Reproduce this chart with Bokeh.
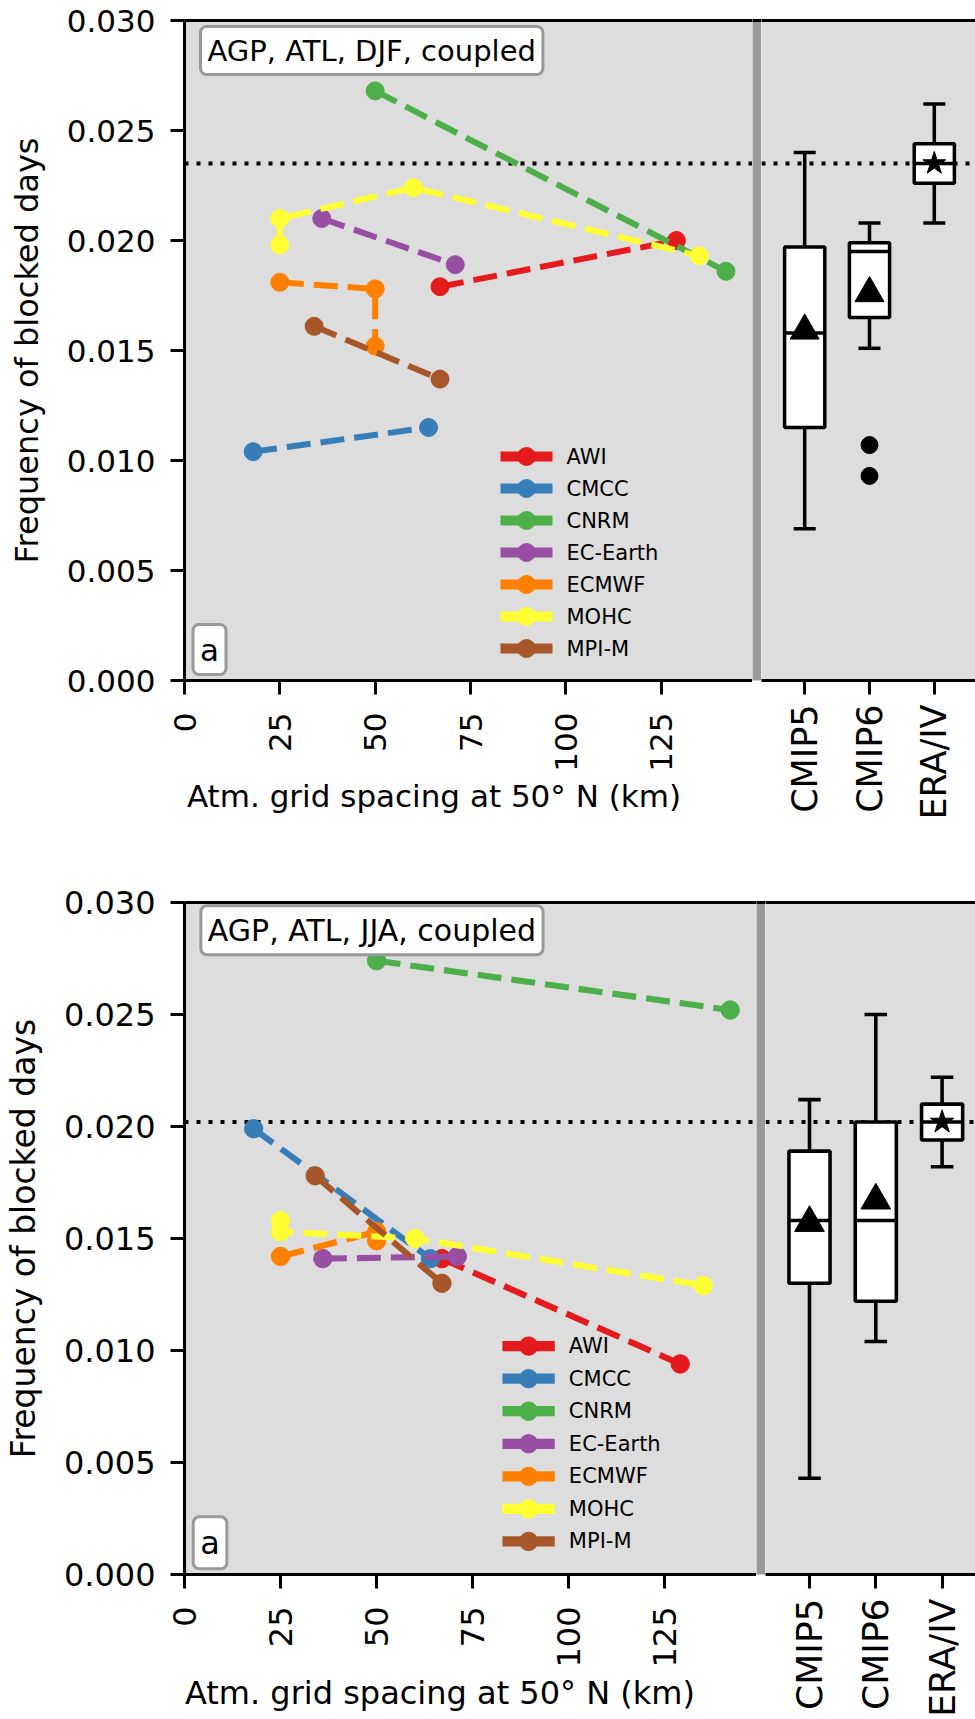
import numpy as np
from bokeh.core.properties import value
from bokeh.embed import file_html
from bokeh.layouts import column, row
from bokeh.models import (ColumnDataSource, FixedTicker, Label, LinearAxis,
                          PrintfTickFormatter, Range1d, Span)
from bokeh.plotting import figure
from bokeh.resources import INLINE

# ---------------------------------------------------------------- data
models = ["AWI", "CMCC", "CNRM", "EC-Earth", "ECMWF", "MOHC", "MPI-M"]
model_colors = ["#e41a1c", "#377eb8", "#4daf4a", "#984ea3", "#ff7f00", "#ffff33", "#a65628"]

# atmospheric grid spacing at 50N (km), one entry per model configuration
awi_km = [67, 129]
cmcc_km = [18, 64]
cnrm_km = [50, 142]
ecearth_km = [36, 71]
ecmwf_km = [25, 50, 50]
mohc_km = [25, 25, 60, 135]
mpim_km = [34, 67]

# frequency of blocked days, winter (DJF)
djf_awi = [0.0179, 0.0200]
djf_cmcc = [0.0104, 0.0115]
djf_cnrm = [0.0268, 0.0186]
djf_ecearth = [0.0210, 0.0189]
djf_ecmwf = [0.0181, 0.0178, 0.0152]
djf_mohc = [0.0198, 0.0210, 0.0224, 0.0193]
djf_mpim = [0.0161, 0.0137]

# frequency of blocked days, summer (JJA)
jja_awi = [0.0141, 0.0094]
jja_cmcc = [0.0199, 0.0141]
jja_cnrm = [0.0274, 0.0252]
jja_ecearth = [0.0141, 0.0142]
jja_ecmwf = [0.0142, 0.0153, 0.0149]
jja_mohc = [0.0158, 0.0153, 0.0150, 0.0129]
jja_mpim = [0.0178, 0.0130]

# CMIP ensembles and reanalysis: box-plot statistics
ens_labels = ["CMIP5", "CMIP6", "ERA/IV"]
djf_low = [0.0069, 0.0151, 0.0208]
djf_q1 = [0.0115, 0.0165, 0.0226]
djf_med = [0.0158, 0.0195, 0.0235]
djf_q3 = [0.0197, 0.0199, 0.0244]
djf_high = [0.0240, 0.0208, 0.0262]
djf_mean = [0.0159, 0.0176, 0.0235]
djf_flier_group = ["CMIP6", "CMIP6"]
djf_flier_value = [0.0107, 0.0093]
djf_obs = 0.0235

jja_low = [0.0043, 0.0104, 0.0182]
jja_q1 = [0.0130, 0.0122, 0.0194]
jja_med = [0.0158, 0.0158, 0.0202]
jja_q3 = [0.0189, 0.0202, 0.0210]
jja_high = [0.0212, 0.0250, 0.0222]
jja_mean = [0.0157, 0.0167, 0.0202]
jja_flier_group = []
jja_flier_value = []
jja_obs = 0.0202

km_ticks = [0, 25, 50, 75, 100, 125]
freq_ticks = [0.000, 0.005, 0.010, 0.015, 0.020, 0.025, 0.030]

model_km = [awi_km, cmcc_km, cnrm_km, ecearth_km, ecmwf_km, mohc_km, mpim_km]
djf_values = [djf_awi, djf_cmcc, djf_cnrm, djf_ecearth, djf_ecmwf, djf_mohc, djf_mpim]
jja_values = [jja_awi, jja_cmcc, jja_cnrm, jja_ecearth, jja_ecmwf, jja_mohc, jja_mpim]
djf_stats = dict(low=djf_low, q1=djf_q1, med=djf_med, q3=djf_q3, high=djf_high, mean=djf_mean,
                 flier_group=djf_flier_group, flier_value=djf_flier_value)
jja_stats = dict(low=jja_low, q1=jja_q1, med=jja_med, q3=jja_q3, high=jja_high, mean=jja_mean,
                 flier_group=jja_flier_group, flier_value=jja_flier_value)

# ---------------------------------------------------------------- style
FONT = "DejaVu Sans"
PANEL_BG = "#dddddd"
SEPARATOR = "#999999"
WIDTH = 975
SEP_W = 9
KM_AT_SEPARATOR = 150
YMAX = 0.030
BOX_HW = 0.31
CAP_HW = 0.17
mean_markers = ["triangle", "triangle", "star"]
mean_sizes = [29, 29, 24]
X_TITLE = "Atm. grid spacing at 50° N (km)"

# legend layout, pixels from the frame's top-left corner
LEG_X0, LEG_X1, LEG_TX = 316, 368, 382
LEG_ROW0, LEG_STEP = 436, 32

# x_pad: trailing no-break spaces that push the centred x title over to the left spine
panel_specs = [
    dict(title="AGP, ATL, DJF, coupled", values=djf_values, stats=djf_stats, obs=djf_obs,
         height=823, top=20, bottom=680, spine_x=184, sep_x=756.0, cat_x=804.2, cat_dx=64.8,
         k=1.0, x_pad=7),
    dict(title="AGP, ATL, JJA, coupled", values=jja_values, stats=jja_stats, obs=jja_obs,
         height=896, top=79, bottom=754, spine_x=175, sep_x=760.5, cat_x=809.0, cat_dx=66.3,
         k=1.022, x_pad=6),
]


def style_axis(ax, k, tick_px, label_px):
    ax.axis_line_width = 3 * k
    ax.axis_line_color = "black"
    ax.major_tick_line_width = 3 * k
    ax.major_tick_line_color = "black"
    ax.major_tick_out = int(round(14 * k))
    ax.major_tick_in = 0
    ax.minor_tick_line_color = None
    ax.major_label_text_font = FONT
    ax.major_label_text_font_size = f"{tick_px}px"
    ax.major_label_text_color = "black"
    ax.axis_label_text_font = FONT
    ax.axis_label_text_font_size = f"{label_px}px"
    ax.axis_label_text_font_style = "normal"
    ax.axis_label_text_color = "black"


def add_top_spine(fig, k):
    spine = LinearAxis(ticker=FixedTicker(ticks=[]), axis_line_width=3 * k, axis_line_color="black",
                       major_tick_line_color=None, minor_tick_line_color=None,
                       major_label_text_font_size="0px")
    fig.add_layout(spine, "above")


def build_panel(spec):
    k = spec["k"]
    H = spec["height"]
    ft, fb = spec["top"], spec["bottom"]
    frame_h = fb - ft
    left_w = int(round(spec["sep_x"] - SEP_W / 2))
    right_x0 = left_w + SEP_W
    right_w = WIDTH - right_x0
    px_km = (spec["sep_x"] - spec["spine_x"]) / KM_AT_SEPARATOR
    px_val = frame_h / YMAX
    tick_px = round(31 * k)
    title_px = round(29 * k)
    legend_px = round(21 * k)

    common = dict(height=H, output_backend="svg", toolbar_location=None,
                  min_border_top=ft, border_fill_color="white", outline_line_color=None)

    # ---- model configurations against grid spacing
    p = figure(width=left_w, x_range=Range1d(0, (left_w - spec["spine_x"]) / px_km),
               y_range=Range1d(0, YMAX), min_border_left=spec["spine_x"], min_border_right=0,
               min_border_bottom=H - fb, background_fill_color=PANEL_BG, **common)
    p.grid.visible = False

    xa = p.xaxis[0]
    xa.ticker = FixedTicker(ticks=km_ticks)
    xa.major_label_orientation = np.pi / 2
    xa.axis_label = X_TITLE + "\u00a0" * spec["x_pad"]
    style_axis(xa, k, tick_px, round(31 * k))
    xa.major_label_standoff = 18
    xa.axis_label_standoff = 3

    ya = p.yaxis[0]
    ya.ticker = FixedTicker(ticks=freq_ticks)
    ya.formatter = PrintfTickFormatter(format="%.3f")
    ya.axis_label = "Frequency of blocked days"
    style_axis(ya, k, tick_px, round(32 * k))
    ya.major_label_standoff = 15
    ya.axis_label_standoff = 18
    add_top_spine(p, k)

    p.add_layout(Span(location=spec["obs"], dimension="width", line_color="black",
                      line_width=4 * k, line_dash="4 8", level="underlay"))

    for color, xs, ys in zip(model_colors, model_km, spec["values"]):
        src = ColumnDataSource(data=dict(km=xs, freq=ys))
        p.line("km", "freq", source=src, line_color=color, line_width=6 * k, line_dash="24 10")
        p.scatter("km", "freq", source=src, size=18 * k, fill_color=color, line_color=color)

    # legend: solid line with a dot, then the model name
    for i, (name, color) in enumerate(zip(models, model_colors)):
        yv = YMAX - (LEG_ROW0 + i * LEG_STEP) * k / px_val
        x0, x1, xt = (v * k / px_km for v in (LEG_X0, LEG_X1, LEG_TX))
        p.line([x0, x1], [yv, yv], line_color=color, line_width=10 * k)
        p.scatter([(x0 + x1) / 2], [yv], size=18 * k, fill_color=color, line_color=color)
        p.text([xt], [yv], text=[name], text_font=value(FONT), text_font_size=f"{legend_px}px",
               text_baseline="middle", text_align="left", text_color="black")

    p.add_layout(Label(x=16 * k, y=frame_h - 30 * k, x_units="screen", y_units="screen",
                       text=spec["title"], text_font=FONT, text_font_size=f"{title_px}px",
                       text_align="left", text_baseline="middle", text_color="black",
                       background_fill_color="white", border_line_color="#999999",
                       border_line_width=3, border_radius=6, padding=7))
    p.add_layout(Label(x=25 * k, y=31 * k, x_units="screen", y_units="screen",
                       text="a", text_font=FONT, text_font_size=f"{tick_px}px",
                       text_align="center", text_baseline="middle", text_color="black",
                       background_fill_color="white", border_line_color="#999999",
                       border_line_width=3, border_radius=6, padding=7))

    # ---- vertical separator between the two parts
    sep = figure(width=SEP_W, height=H, x_range=Range1d(0, 1), y_range=Range1d(0, 1),
                 x_axis_location=None, y_axis_location=None, min_border_left=0,
                 min_border_right=0, min_border_top=ft, min_border_bottom=0,
                 background_fill_color=SEPARATOR, border_fill_color="white",
                 outline_line_color=None, toolbar_location=None, output_backend="svg")
    sep.grid.visible = False
    add_top_spine(sep, k)

    # ---- ensemble box plots
    r_start = 1 - (spec["cat_x"] - right_x0) / spec["cat_dx"]
    r = figure(width=right_w, x_range=Range1d(r_start, r_start + right_w / spec["cat_dx"]),
               y_range=Range1d(0, YMAX), y_axis_location=None, min_border_left=0,
               min_border_right=0, min_border_bottom=H - fb, background_fill_color=PANEL_BG,
               **common)
    r.grid.visible = False
    pos = np.arange(1, len(ens_labels) + 1, dtype=float)
    ra = r.xaxis[0]
    ra.ticker = FixedTicker(ticks=list(pos))
    ra.major_label_overrides = {float(x): lab for x, lab in zip(pos, ens_labels)}
    ra.major_label_orientation = np.pi / 2
    style_axis(ra, k, round(35 * k), round(29 * k))
    ra.major_label_standoff = 10
    add_top_spine(r, k)

    r.add_layout(Span(location=spec["obs"], dimension="width", line_color="black",
                      line_width=4 * k, line_dash="4 8", level="underlay"))

    st = spec["stats"]
    bsrc = ColumnDataSource(data=dict(
        x=pos, box_l=pos - BOX_HW, box_r=pos + BOX_HW, cap_l=pos - CAP_HW, cap_r=pos + CAP_HW,
        low=st["low"], q1=st["q1"], med=st["med"], q3=st["q3"], high=st["high"], mean=st["mean"],
        marker=mean_markers, msize=[m * k for m in mean_sizes]))
    lw = 3.5 * k
    r.segment(x0="x", y0="q3", x1="x", y1="high", source=bsrc, line_color="black", line_width=lw)
    r.segment(x0="x", y0="low", x1="x", y1="q1", source=bsrc, line_color="black", line_width=lw)
    r.segment(x0="cap_l", y0="high", x1="cap_r", y1="high", source=bsrc, line_color="black", line_width=lw)
    r.segment(x0="cap_l", y0="low", x1="cap_r", y1="low", source=bsrc, line_color="black", line_width=lw)
    r.quad(left="box_l", right="box_r", bottom="q1", top="q3", source=bsrc,
           fill_color="white", line_color="black", line_width=lw)
    r.segment(x0="box_l", y0="med", x1="box_r", y1="med", source=bsrc, line_color="black", line_width=lw)
    r.scatter("x", "mean", source=bsrc, marker="marker", size="msize",
              fill_color="black", line_color="black")

    if st["flier_value"]:
        fx = [ens_labels.index(g) + 1 for g in st["flier_group"]]
        r.scatter(fx, st["flier_value"], size=17 * k, fill_color="black", line_color="black")

    return row(p, sep, r)


layout = column(*[build_panel(s) for s in panel_specs])
open("out.html", "w").write(file_html(layout, INLINE, title="Blocking frequency"))
